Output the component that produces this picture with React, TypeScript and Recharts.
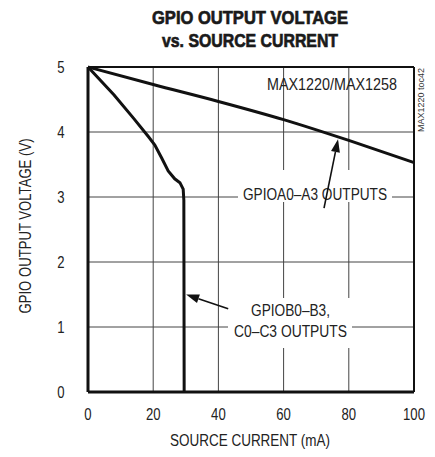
import { CartesianGrid, Customized, Line, LineChart, XAxis, YAxis } from 'recharts'

// GPIO output voltage vs source current (MAX1220/MAX1258)
const currentTicks = [0, 20, 40, 60, 80, 100]
const voltTicks = [0, 1, 2, 3, 4, 5]

const gpioA = [
  { x: 0, v: 5 },
  { x: 20, v: 4.73 },
  { x: 40, v: 4.47 },
  { x: 60, v: 4.19 },
  { x: 80, v: 3.87 },
  { x: 100, v: 3.53 },
]

const gpioB = [
  { x: 0, v: 5 },
  { x: 8, v: 4.57 },
  { x: 14, v: 4.21 },
  { x: 18.5, v: 3.93 },
  { x: 20.5, v: 3.8 },
  { x: 22.6, v: 3.6 },
  { x: 24.6, v: 3.4 },
  { x: 26.6, v: 3.28 },
  { x: 28.2, v: 3.22 },
  { x: 29.2, v: 3.12 },
  { x: 29.4, v: 2.95 },
  { x: 29.5, v: 0 },
]

const FONT = '"Liberation Sans", Arial, sans-serif'
const W = 435
const H = 457
const M = { top: 67, right: 21, left: 88, bottom: 65 }
const PW = W - M.left - M.right
const PH = H - M.top - M.bottom

const px = (x: number) => M.left + (x / 100) * PW
const py = (v: number) => M.top + ((5 - v) / 5) * PH

// condensed tick text, the original uses a narrow face
function NarrowTick(props: any) {
  const { x, y, payload, side } = props
  const anchor = side === 'left' ? 'end' : 'middle'
  return (
    <g transform={`translate(${x},${y})`}>
      <text
        transform="scale(0.82,1)"
        x={side === 'left' ? -19 : 0}
        y={side === 'left' ? 0 : 14}
        dy="0.36em"
        textAnchor={anchor}
        fontFamily={FONT}
        fontSize={16}
        fill="#222"
      >
        {payload.value}
      </text>
    </g>
  )
}

function Arrow({ from, to }: { from: [number, number]; to: [number, number] }) {
  const x1 = px(from[0]), y1 = py(from[1]), x2 = px(to[0]), y2 = py(to[1])
  const a = Math.atan2(y2 - y1, x2 - x1)
  const len = 13, half = 4.5
  const bx = x2 - len * Math.cos(a), by = y2 - len * Math.sin(a)
  const p1 = [bx + half * Math.sin(a), by - half * Math.cos(a)]
  const p2 = [bx - half * Math.sin(a), by + half * Math.cos(a)]
  return (
    <g>
      <line x1={x1} y1={y1} x2={bx} y2={by} stroke="#111" strokeWidth={1.6} />
      <polygon points={`${x2},${y2} ${p1[0]},${p1[1]} ${p2[0]},${p2[1]}`} fill="#111" />
    </g>
  )
}

function Notes() {
  const txt = { fontFamily: FONT, fontSize: 16, fill: '#222' }
  const title = { fontFamily: FONT, fontWeight: 'bold' as const, fontSize: 19, fill: '#1a1a1a', stroke: '#1a1a1a', strokeWidth: 0.7 }
  return (
    <g>
      <text x={250} y={24} textAnchor="middle" {...title} textLength={196} lengthAdjust="spacingAndGlyphs">GPIO OUTPUT VOLTAGE</text>
      <text x={250} y={47} textAnchor="middle" {...title} textLength={176} lengthAdjust="spacingAndGlyphs">vs. SOURCE CURRENT</text>

      {/* plot frame */}
      <line x1={px(0)} y1={py(5)} x2={px(100)} y2={py(5)} stroke="#111" strokeWidth={2} />
      <line x1={px(100)} y1={py(5)} x2={px(100)} y2={py(0)} stroke="#111" strokeWidth={2} />

      <text x={250} y={446} textAnchor="middle" {...txt} textLength={160} lengthAdjust="spacingAndGlyphs">SOURCE CURRENT (mA)</text>
      <text transform="translate(31,226) rotate(-90)" textAnchor="middle" {...txt} textLength={175} lengthAdjust="spacingAndGlyphs">GPIO OUTPUT VOLTAGE (V)</text>

      <text x={397} y={90} textAnchor="end" {...txt} textLength={130} lengthAdjust="spacingAndGlyphs">MAX1220/MAX1258</text>
      <text transform="translate(424,100) rotate(-90)" textAnchor="middle" fontFamily={FONT} fontSize={9} fill="#333" textLength={64} lengthAdjust="spacingAndGlyphs">MAX1220 toc42</text>

      <rect x={238} y={170} width={154} height={32} fill="#fff" />
      <text x={243} y={200} {...txt} textLength={144} lengthAdjust="spacingAndGlyphs">GPIOA0–A3 OUTPUTS</text>
      <Arrow from={[72.4, 2.83]} to={[76.7, 3.89]} />

      <rect x={228} y={298} width={124} height={50} fill="#fff" />
      <text x={290.5} y={316} textAnchor="middle" {...txt} textLength={79} lengthAdjust="spacingAndGlyphs">GPIOB0–B3,</text>
      <text x={290.5} y={337} textAnchor="middle" {...txt} textLength={113} lengthAdjust="spacingAndGlyphs">C0–C3 OUTPUTS</text>
      <Arrow from={[43, 1.28]} to={[30.1, 1.5]} />
    </g>
  )
}

export default function App() {
  return (
    <div style={{ position: 'absolute', left: 0, top: 0, width: W, height: H, background: '#fff' }}>
      <LineChart width={W} height={H} margin={{ top: M.top, right: M.right, left: 0, bottom: 0 }}>
        <CartesianGrid stroke="#444" strokeWidth={1} horizontalValues={voltTicks} verticalValues={currentTicks} />
        <XAxis
          type="number"
          dataKey="x"
          domain={[0, 100]}
          ticks={currentTicks}
          height={M.bottom}
          axisLine={{ stroke: '#111', strokeWidth: 3 }}
          tickLine={false}
          tick={<NarrowTick side="bottom" />}
        />
        <YAxis
          type="number"
          dataKey="v"
          domain={[0, 5]}
          ticks={voltTicks}
          width={M.left}
          axisLine={{ stroke: '#111', strokeWidth: 3 }}
          tickLine={false}
          tick={<NarrowTick side="left" />}
        />
        <Customized component={Notes} />
        <Line data={gpioA} dataKey="v" type="monotone" stroke="#111" strokeWidth={3} dot={false} isAnimationActive={false} />
        <Line data={gpioB} dataKey="v" type="linear" stroke="#111" strokeWidth={3} dot={false} isAnimationActive={false} />
      </LineChart>
    </div>
  )
}
